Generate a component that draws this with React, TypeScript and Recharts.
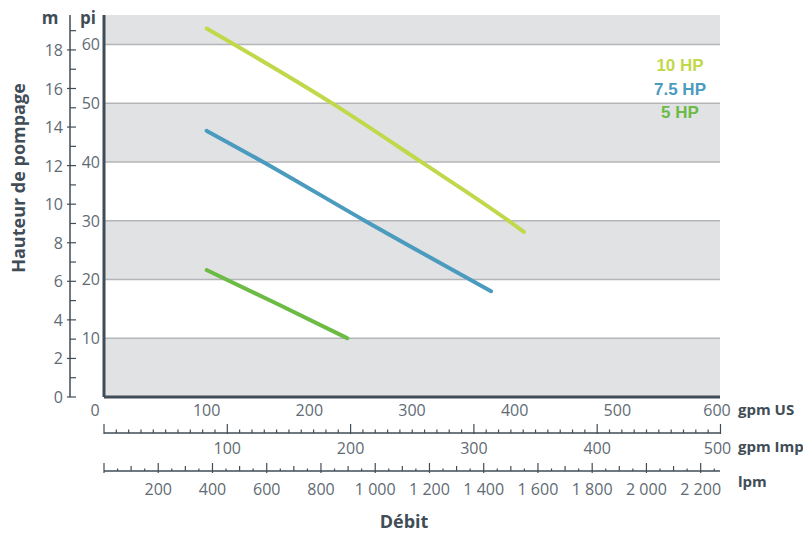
import React from 'react';
import { LineChart, Line, XAxis, YAxis, ReferenceArea, ReferenceLine, Legend } from 'recharts';

// ---- data (flow in US gpm, head in ft "pi") ----
const hp10Flow = [100, 222, 309, 394, 409];
const hp10Head = [62.7, 50, 40, 30, 28.1];
const hp75Flow = [100, 155, 254, 377];
const hp75Head = [45.3, 40, 30, 18.0];
const hp5Flow = [100, 168, 237];
const hp5Head = [21.6, 15.9, 10.0];

const seriesNames = ['10 HP', '7.5 HP', '5 HP'];
const seriesColors = ['#c2d84b', '#4b9bbf', '#6cbb45'];

// ---- axes ----
const usTicks = [0, 100, 200, 300, 400, 500, 600];
const piTicks = [10, 20, 30, 40, 50, 60];
const mLabels = [0, 2, 4, 6, 8, 10, 12, 14, 16, 18];
const impLabels = [100, 200, 300, 400, 500];
const lpmLabels = [200, 400, 600, 800, 1000, 1200, 1400, 1600, 1800, 2000, 2200];
const bands = [[0, 10], [20, 30], [40, 50], [60, 65]];

const US_MAX = 600;
const PI_MAX = 65;
const FT_PER_M = 3.28084;
const US_PER_IMP = 1.20095;
const LPM_PER_US = 3.785411784;
const IMP_MAX = US_MAX / US_PER_IMP;
const LPM_MAX = US_MAX * LPM_PER_US;

const mTicks = Array.from({ length: 20 }, (_, i) => i);
const impTicks = Array.from({ length: 51 }, (_, i) => i * 10);
const lpmTicks = Array.from({ length: 46 }, (_, i) => i * 50);

const toRows = (flow: number[], head: number[]) => flow.map((g, i) => ({ gpm: g, pi: head[i] }));
const hp10 = toRows(hp10Flow, hp10Head);
const hp75 = toRows(hp75Flow, hp75Head);
const hp5 = toRows(hp5Flow, hp5Head);
const series = [hp10, hp75, hp5];

// helper rows so the secondary flow scales get a domain
const impRange = [{ imp: 0, h: 0 }, { imp: IMP_MAX, h: 0 }];
const lpmRange = [{ lpm: 0, h: 0 }, { lpm: LPM_MAX, h: 0 }];

// axis ids (sorted alphabetically by the library: first = nearest the plot)
const X_US = 'a_us';
const X_IMP = 'b_imp';
const X_LPM = 'c_lpm';
const Y_PI = 'a_pi';
const Y_M = 'b_m';

const AXIS = '#414d56';
const TICK = '#5f6b74';
const BAND = '#e1e2e4';
const GRID = '#b4b5b7';
const FONT = '"Open Sans", "DejaVu Sans", sans-serif';
const BOLD = '"Open Sans", "Liberation Sans", sans-serif';
const TS = 16;

const fmt = (v: number) => (v >= 1000 ? `${Math.floor(v / 1000)} ${String(v % 1000).padStart(3, '0')}` : String(v));

const UsTick = (p: any) => {
  const v = p.payload.value;
  return (
    <text x={p.x + (v === 0 ? -9 : v === 600 ? -3 : 0)} y={p.y + 19} textAnchor="middle" fontSize={TS} fill={TICK} fontFamily={FONT}>
      {v}
    </text>
  );
};

const ImpTick = (p: any) => {
  const v = p.payload.value;
  const y = p.y;
  const major = v % 100 === 0;
  return (
    <g>
      <line x1={p.x} x2={p.x} y1={major ? y - 9 : y - 3.5} y2={major ? y + 1 : y} stroke={AXIS} strokeWidth={1.2} />
      {impLabels.includes(v) && (
        <text x={p.x + (v === 500 ? -3 : 0)} y={y + 21} textAnchor="middle" fontSize={TS} fill={TICK} fontFamily={FONT}>
          {v}
        </text>
      )}
    </g>
  );
};

const LpmTick = (p: any) => {
  const v = p.payload.value;
  const y = p.y;
  const big = v % 200 === 0;
  const mid = v % 100 === 0;
  const top = big ? y - 8 : mid ? y - 5 : y - 2.5;
  return (
    <g>
      <line x1={p.x} x2={p.x} y1={top} y2={big ? y + 2 : y} stroke={AXIS} strokeWidth={1.2} />
      {lpmLabels.includes(v) && (
        <text x={p.x} y={y + 24} textAnchor="middle" fontSize={TS} fill={TICK} fontFamily={FONT}>
          {fmt(v)}
        </text>
      )}
    </g>
  );
};

const PiTick = (p: any) => (
  <text x={100} y={p.y + 6} textAnchor="end" fontSize={TS} fill={TICK} fontFamily={FONT}>
    {p.payload.value}
  </text>
);

const MTick = (p: any) => {
  const v = p.payload.value;
  const major = mLabels.includes(v);
  return (
    <g>
      <line x1={major ? 67 : 70} x2={76} y1={p.y} y2={p.y} stroke={AXIS} strokeWidth={1.2} />
      {major && (
        <text x={63} y={p.y + 6} textAnchor="end" fontSize={TS} fill={TICK} fontFamily={FONT}>
          {v}
        </text>
      )}
    </g>
  );
};

const LegendBox = () => (
  <div style={{ textAlign: 'center', width: 120, fontFamily: '"Liberation Sans", Arial, sans-serif', fontWeight: 'bold', fontSize: 17, lineHeight: '23.5px' }}>
    {seriesNames.map((n, i) => (
      <div key={n} style={{ color: seriesColors[i] }}>{n}</div>
    ))}
  </div>
);

export default function App() {
  return (
    <div style={{ position: 'absolute', left: 0, top: 0, width: 803, height: 533, background: '#fff', fontFamily: FONT }}>
      <LineChart width={803} height={533} margin={{ top: 15, right: 83, left: 30, bottom: 32 }}>
        {bands.map(([a, b], i) => (
          <ReferenceArea key={`b${i}`} xAxisId={X_US} yAxisId={Y_PI} x1={0} x2={US_MAX} y1={a} y2={b} fill={BAND} fillOpacity={1} stroke="none" />
        ))}
        {piTicks.map((t) => (
          <ReferenceLine key={`g${t}`} xAxisId={X_US} yAxisId={Y_PI} y={t} stroke={GRID} strokeWidth={1.5} />
        ))}
        <XAxis
          xAxisId={X_US}
          dataKey="gpm"
          type="number"
          domain={[0, US_MAX]}
          ticks={usTicks}
          interval={0}
          allowDataOverflow
          height={36}
          axisLine={{ stroke: AXIS, strokeWidth: 3 }}
          tickLine={false}
          tickSize={0}
          tickMargin={0}
          tick={UsTick}
        />
        <XAxis
          xAxisId={X_IMP}
          dataKey="imp"
          type="number"
          domain={[0, IMP_MAX]}
          ticks={impTicks}
          interval={0}
          allowDataOverflow
          height={38}
          axisLine={{ stroke: AXIS, strokeWidth: 1.3 }}
          tickLine={false}
          tickSize={0}
          tickMargin={0}
          tick={ImpTick}
        />
        <XAxis
          xAxisId={X_LPM}
          dataKey="lpm"
          type="number"
          domain={[0, LPM_MAX]}
          ticks={lpmTicks}
          interval={0}
          allowDataOverflow
          height={30}
          axisLine={{ stroke: AXIS, strokeWidth: 1.3 }}
          tickLine={false}
          tickSize={0}
          tickMargin={0}
          tick={LpmTick}
        />
        <YAxis
          yAxisId={Y_PI}
          type="number"
          domain={[0, PI_MAX]}
          ticks={piTicks}
          interval={0}
          allowDataOverflow
          width={34}
          axisLine={{ stroke: AXIS, strokeWidth: 3 }}
          tickLine={false}
          tick={PiTick}
        />
        <YAxis
          yAxisId={Y_M}
          type="number"
          domain={[0, PI_MAX / FT_PER_M]}
          ticks={mTicks}
          interval={0}
          allowDataOverflow
          width={40}
          axisLine={{ stroke: AXIS, strokeWidth: 1.5 }}
          tickLine={false}
          tick={MTick}
        />
        <Line data={impRange} xAxisId={X_IMP} yAxisId={Y_PI} dataKey="h" stroke="none" dot={false} activeDot={false} legendType="none" isAnimationActive={false} />
        <Line data={lpmRange} xAxisId={X_LPM} yAxisId={Y_PI} dataKey="h" stroke="none" dot={false} activeDot={false} legendType="none" isAnimationActive={false} />
        {series.map((d, i) => (
          <Line
            key={seriesNames[i]}
            data={d}
            xAxisId={X_US}
            yAxisId={Y_PI}
            dataKey="pi"
            type="monotone"
            stroke={seriesColors[i]}
            strokeWidth={4}
            strokeLinecap="round"
            dot={false}
            isAnimationActive={false}
            name={seriesNames[i]}
          />
        ))}
        <Legend
          layout="horizontal"
          verticalAlign="middle"
          align="center"
          content={<LegendBox />}
          wrapperStyle={{ position: 'absolute', left: 620, top: 54, width: 120, bottom: 'auto', right: 'auto' }}
        />

        <text x={50} y={24} textAnchor="middle" fontSize={17} fontWeight="bold" fill={AXIS} fontFamily={BOLD}>m</text>
        <text x={88} y={24} textAnchor="middle" fontSize={17} fontWeight="bold" fill={AXIS} fontFamily={BOLD}>pi</text>
        <text x={18} y={178} transform="rotate(-90 18 178)" textAnchor="middle" dominantBaseline="central" fontSize={18} fontWeight="bold" fill={AXIS} fontFamily={BOLD}>
          Hauteur de pompage
        </text>
        <text x={738} y={415} fontSize={15} fontWeight="bold" fill={AXIS} fontFamily={BOLD}>gpm US</text>
        <text x={738} y={452} fontSize={15} fontWeight="bold" fill={AXIS} fontFamily={BOLD}>gpm Imp</text>
        <text x={738} y={487} fontSize={15} fontWeight="bold" fill={AXIS} fontFamily={BOLD}>lpm</text>
        <text x={404} y={528} textAnchor="middle" fontSize={18} fontWeight="bold" fill={AXIS} fontFamily={BOLD}>Débit</text>
      </LineChart>
    </div>
  );
}
